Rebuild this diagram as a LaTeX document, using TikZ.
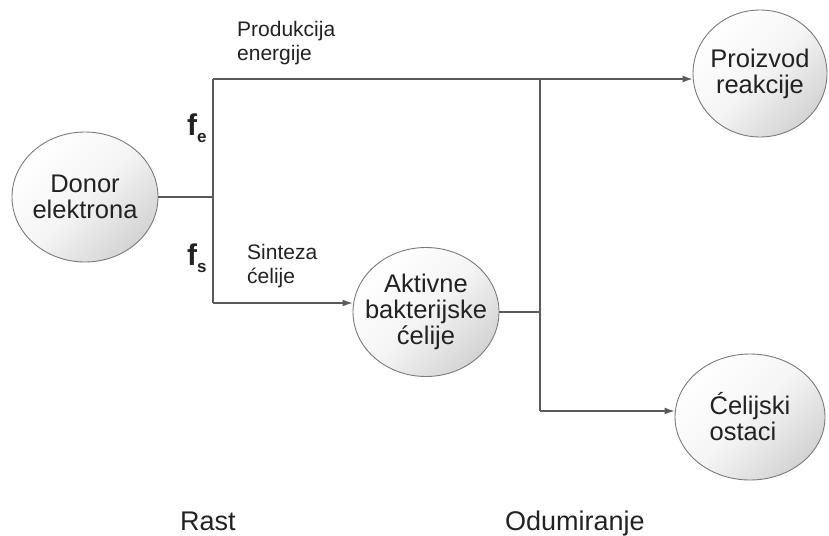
\documentclass[tikz,border=0pt]{standalone}
\usepackage{fontspec}
\setmainfont{Liberation Sans}
\usetikzlibrary{shapes.geometric,arrows.meta}
\definecolor{txt}{HTML}{222222}
\definecolor{lin}{HTML}{5A5A5A}
\definecolor{rim}{HTML}{7A7A7A}
\begin{document}
\begin{tikzpicture}[x=1pt,y=-1pt,
  blob/.style={ellipse, draw=rim, line width=0.9pt, top color=white, bottom color=black!17, middle color=black!4, shading angle=45,
    inner xsep=-14pt, inner ysep=0pt, align=center, text=txt, font=\fontsize{25.5}{26}\selectfont},
  link/.style={draw=lin, line width=1.3pt},
  arr/.style={link, -{Latex[length=10pt,width=7pt]}},
  small/.style={font=\fontsize{21}{24}\selectfont, align=left, inner sep=0pt, text=txt},
  big/.style={font=\fontsize{27}{27}\selectfont, inner sep=0pt, text=txt},
  frac/.style={font=\fontsize{30}{30}\bfseries\selectfont, inner sep=0pt, text=txt}]
\useasboundingbox (0,0) rectangle (829,535);

\node[blob, minimum width=146pt, minimum height=130pt] (donor) at (85,197) {Donor\\elektrona};
\node[blob, minimum width=146pt, minimum height=129pt] (akt) at (426,312) {Aktivne\\bakterijske\\ćelije};
\node[blob, minimum width=134pt, minimum height=127pt] (proiz) at (760,73.5) {Proizvod\\reakcije};
\node[blob, minimum width=150pt, minimum height=126pt, align=left] (cel) at (750,417) {Ćelijski\\ostaci};

\coordinate (tl) at (213,79);
\coordinate (bl) at (213,303);
\coordinate (tr) at (540,79);
\coordinate (br) at (540,411);

\draw[link] (donor.east) -- (donor.east -| tl);
\draw[link] (tl) -- (bl);
\draw[arr] (tl) -- (tl -| proiz.west);
\draw[arr] (bl) -- (bl -| akt.west);
\draw[link] (akt.east) -- (akt.east -| tr);
\draw[link] (tr) -- (br);
\draw[arr] (br) -- (br -| cel.west);

\node[small, anchor=north west] (prod) at (237,21) {Produkcija\\energije};
\node[small, anchor=north west] (sint) at (247,244) {Sinteza\\ćelije};

\node[frac, anchor=base west] (fe) at (187,135) {f\raisebox{-7pt}{\fontsize{17}{17}\selectfont e}};
\node[frac, anchor=base west] (fs) at (187,265) {f\raisebox{-7pt}{\fontsize{17}{17}\selectfont s}};

\node[big, anchor=base west] (rast) at (180,530) {Rast};
\node[big, anchor=base west] (odum) at (505,530) {Odumiranje};
\end{tikzpicture}
\end{document}
